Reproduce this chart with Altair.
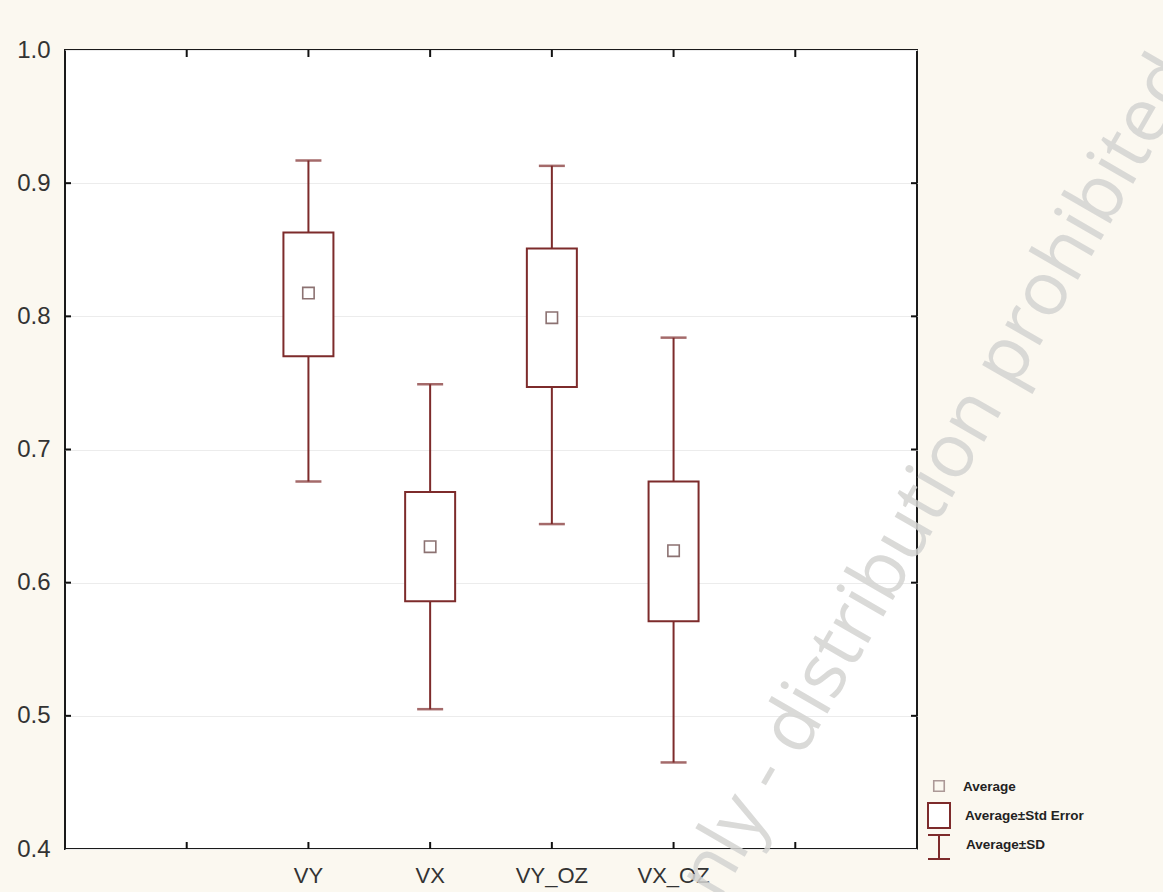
import altair as alt
import pandas as pd

# ---- data ----
categories = ["VY", "VX", "VY_OZ", "VX_OZ"]
means = [0.8175, 0.627, 0.799, 0.624]
se_low = [0.770, 0.586, 0.747, 0.571]
se_high = [0.863, 0.668, 0.851, 0.676]
sd_low = [0.676, 0.505, 0.644, 0.465]
sd_high = [0.917, 0.749, 0.913, 0.784]

x_domain = [" ", "VY", "VX", "VY_OZ", "VX_OZ", "  "]
y_ticks = [0.4, 0.5, 0.6, 0.7, 0.8, 0.9, 1.0]
inner_y_ticks = [0.5, 0.6, 0.7, 0.8, 0.9]
legend_labels = ["Average", "Average\u00b1Std Error", "Average\u00b1SD"]
watermark = "only - distribution prohibited"

W, H = 852, 799
RED = "#7d2b2b"
MEAN_C = "#8c7272"
FONT = "Liberation Sans"

df = pd.DataFrame({
    "cat": categories, "mean": means,
    "se_low": se_low, "se_high": se_high,
    "sd_low": sd_low, "sd_high": sd_high,
})
df_xt = pd.DataFrame({"cat": x_domain})
df_yt = pd.DataFrame({"v": inner_y_ticks})

xscale = alt.Scale(domain=x_domain, padding=1)
yscale = alt.Scale(domain=[0.4, 1.0], nice=False, zero=False)

X = alt.X("cat:N", scale=xscale, sort=x_domain, title=None,
          axis=alt.Axis(ticks=False, domain=False, labelAngle=0, labelFontSize=22,
                        labelFont=FONT, labelColor="#333333", labelPadding=16, grid=False))

base = alt.Chart(df)

whisk = base.mark_rule(color=RED, strokeWidth=2).encode(
    x=X,
    y=alt.Y("sd_low:Q", scale=yscale, title=None,
            axis=alt.Axis(values=y_ticks, format=".1f", ticks=False, domain=False,
                          labelFontSize=24, labelFont=FONT, labelColor="#333333",
                          labelPadding=15, grid=True, gridColor="#ececec", gridWidth=1)),
    y2="sd_high:Q",
)
cap_lo = base.mark_tick(color=RED, size=26, thickness=2.5).encode(x=X, y=alt.Y("sd_low:Q", scale=yscale))
cap_hi = base.mark_tick(color=RED, size=26, thickness=2.5).encode(x=X, y=alt.Y("sd_high:Q", scale=yscale))
box = base.mark_bar(size=50, fill="white", stroke=RED, strokeWidth=2).encode(
    x=X, y=alt.Y("se_low:Q", scale=yscale), y2="se_high:Q")
mean_pt = base.mark_point(shape="square", size=130, filled=False, color=MEAN_C,
                          strokeWidth=1.6, opacity=1).encode(
    x=X, y=alt.Y("mean:Q", scale=yscale))

# inward frame ticks
tick_style = dict(color="#111111", strokeWidth=2)
t_top = alt.Chart(df_xt).mark_rule(**tick_style).encode(x=X, y=alt.value(0), y2=alt.value(7))
t_bot = alt.Chart(df_xt).mark_rule(**tick_style).encode(x=X, y=alt.value(H), y2=alt.value(H - 7))
t_left = alt.Chart(df_yt).mark_rule(**tick_style).encode(
    y=alt.Y("v:Q", scale=yscale), x=alt.value(0), x2=alt.value(6))
t_right = alt.Chart(df_yt).mark_rule(**tick_style).encode(
    y=alt.Y("v:Q", scale=yscale), x=alt.value(W), x2=alt.value(W - 6))

# watermark
wm = alt.Chart(pd.DataFrame({"t": [watermark]})).mark_text(
    angle=300, align="right", baseline="middle", font="Open Sans", fontSize=75,
    color="#d4d4d2", opacity=0.85).encode(
    text="t:N", x=alt.value(1112), y=alt.value(12))

# custom legend
ldf = pd.DataFrame({"label": legend_labels})
leg_mean = alt.Chart(ldf.iloc[[0]]).mark_point(shape="square", size=110, filled=False,
                                                color=MEAN_C, strokeWidth=1.6).encode(
    x=alt.value(874), y=alt.value(736))
leg_box = alt.Chart(ldf.iloc[[1]]).mark_rect(fill="white", stroke=RED, strokeWidth=2).encode(
    x=alt.value(863), x2=alt.value(885), y=alt.value(753), y2=alt.value(778))
leg_sd = alt.Chart(ldf.iloc[[2]]).mark_rule(color=RED, strokeWidth=2).encode(
    x=alt.value(874), y=alt.value(785), y2=alt.value(809))
leg_cap1 = alt.Chart(ldf.iloc[[2]]).mark_rule(color=RED, strokeWidth=2).encode(
    x=alt.value(863), x2=alt.value(885), y=alt.value(785))
leg_cap2 = alt.Chart(ldf.iloc[[2]]).mark_rule(color=RED, strokeWidth=2).encode(
    x=alt.value(863), x2=alt.value(885), y=alt.value(809))
txt = dict(align="left", baseline="middle", font=FONT, fontSize=13.5, fontWeight="bold", color="#222")
leg_t1 = alt.Chart(ldf.iloc[[0]]).mark_text(**txt).encode(
    text="label:N", x=alt.value(898), y=alt.value(737))
leg_t2 = alt.Chart(ldf.iloc[[1]]).mark_text(**txt).encode(
    text="label:N", x=alt.value(900), y=alt.value(766))
leg_t3 = alt.Chart(ldf.iloc[[2]]).mark_text(**txt).encode(
    text="label:N", x=alt.value(901), y=alt.value(795))

chart = alt.layer(
    whisk, cap_lo, cap_hi, box, mean_pt,
    t_top, t_bot, t_left, t_right,
    leg_mean, leg_box, leg_sd, leg_cap1, leg_cap2, leg_t1, leg_t2, leg_t3,
    wm,
).properties(
    width=W, height=H,
    autosize=alt.AutoSizeParams(type="none"),
    padding={"left": 65, "top": 50, "right": 1163 - 65 - W, "bottom": 892 - 50 - H},
    background="#fbf8f0",
).configure_view(
    stroke="#1a1a1a", strokeWidth=2, fill="white"
)

chart.save("out.html", embed_options={"renderer": "svg", "actions": False})
